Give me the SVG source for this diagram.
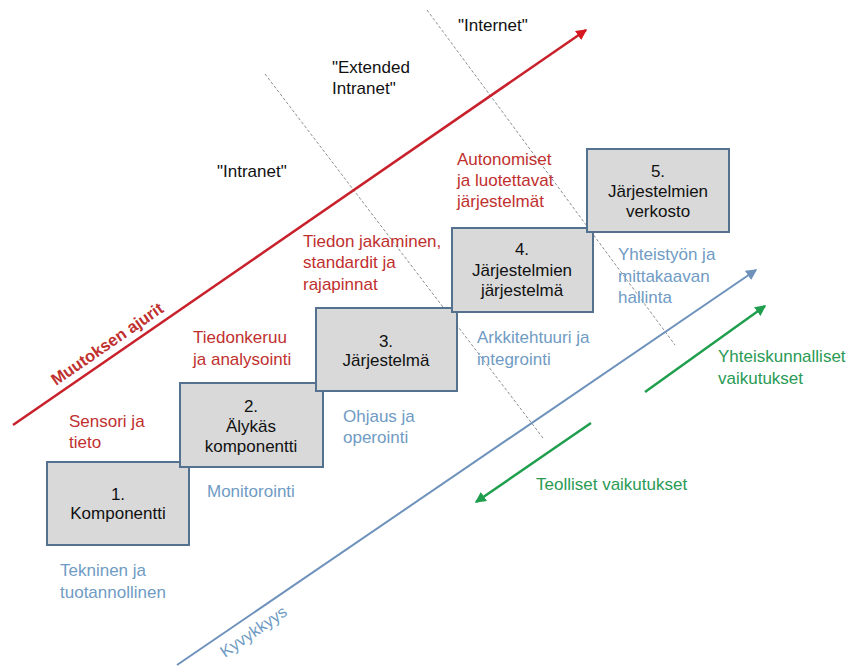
<svg xmlns="http://www.w3.org/2000/svg" width="853" height="666" viewBox="0 0 853 666">
<style>
text{font-family:"Liberation Sans",Arial,sans-serif;font-size:17px}
.blk{fill:#111}
.red{fill:#c0302f}
.blu{fill:#6f9bc4}
.grn{fill:#2a9a55}
.box rect{fill:#d9d9d9;stroke:#54718f;stroke-width:2}
.box text{fill:#111;text-anchor:middle}
.dash{stroke:#8a8f96;stroke-width:1;stroke-dasharray:3 2;fill:none}
</style>
<defs>
<marker id="ar" markerWidth="11" markerHeight="11" refX="7" refY="4" orient="auto" markerUnits="userSpaceOnUse" viewBox="0 0 8 8"><path d="M0,0 L8,4 L0,8 z" fill="#d6171f"/></marker>
<marker id="ab" markerWidth="11" markerHeight="11" refX="7" refY="4" orient="auto" markerUnits="userSpaceOnUse" viewBox="0 0 8 8"><path d="M0,0 L8,4 L0,8 z" fill="#6e92bb"/></marker>
<marker id="ag" markerWidth="11" markerHeight="11" refX="7" refY="4" orient="auto" markerUnits="userSpaceOnUse" viewBox="0 0 8 8"><path d="M0,0 L8,4 L0,8 z" fill="#1f9e4d"/></marker>
</defs>
<rect width="853" height="666" fill="#fff"/>
<g id="connectors">
<line class="dash" x1="265" y1="74" x2="543" y2="438"/>
<line class="dash" x1="427" y1="10" x2="675" y2="345"/>
<line x1="13" y1="425" x2="586" y2="30" stroke="#c8212b" stroke-width="2.5" marker-end="url(#ar)"/>
<line x1="177" y1="665" x2="756" y2="270" stroke="#6e92bb" stroke-width="2" marker-end="url(#ab)"/>
<line x1="645" y1="392" x2="765" y2="306" stroke="#1f9e4d" stroke-width="2.5" marker-end="url(#ag)"/>
<line x1="591" y1="423" x2="476" y2="502" stroke="#1f9e4d" stroke-width="2.5" marker-end="url(#ag)"/>
</g>
<g id="n1" class="box"><rect x="47" y="462" width="142" height="83"/><text x="118" y="500">1.</text><text x="118" y="519">Komponentti</text></g>
<g id="n2" class="box"><rect x="180" y="383" width="143" height="84"/><text x="251" y="412">2.</text><text x="251" y="432">Älykäs</text><text x="251" y="452">komponentti</text></g>
<g id="n3" class="box"><rect x="316" y="308" width="141" height="83"/><text x="386" y="347">3.</text><text x="386" y="366">Järjestelmä</text></g>
<g id="n4" class="box"><rect x="452" y="228" width="141" height="84"/><text x="522" y="255">4.</text><text x="522" y="276">Järjestelmien</text><text x="522" y="296">järjestelmä</text></g>
<g id="n5" class="box"><rect x="587" y="149" width="142" height="83"/><text x="658" y="177">5.</text><text x="658" y="197">Järjestelmien</text><text x="658" y="217">verkosto</text></g>
<g id="labels">
<text class="blk" x="458" y="31">"Internet"</text>
<text class="blk" x="332" y="73">"Extended</text>
<text class="blk" x="332" y="94">Intranet"</text>
<text class="blk" x="217" y="177">"Intranet"</text>
<text class="red" x="457" y="165">Autonomiset</text>
<text class="red" x="457" y="186">ja luotettavat</text>
<text class="red" x="457" y="207">järjestelmät</text>
<text class="red" x="303" y="247">Tiedon jakaminen,</text>
<text class="red" x="303" y="268">standardit ja</text>
<text class="red" x="303" y="290">rajapinnat</text>
<text class="red" x="193" y="343">Tiedonkeruu</text>
<text class="red" x="193" y="365">ja analysointi</text>
<text class="red" x="69" y="427">Sensori ja</text>
<text class="red" x="69" y="448">tieto</text>
<text class="red" transform="translate(56,386) rotate(-34.6)" style="font-weight:bold;font-size:16.5px">Muutoksen ajurit</text>
<text class="blu" x="60" y="576">Tekninen ja</text>
<text class="blu" x="60" y="598">tuotannollinen</text>
<text class="blu" x="207" y="497">Monitorointi</text>
<text class="blu" x="343" y="422">Ohjaus ja</text>
<text class="blu" x="343" y="443">operointi</text>
<text class="blu" x="477" y="343">Arkkitehtuuri ja</text>
<text class="blu" x="477" y="365">integrointi</text>
<text class="blu" x="618" y="260">Yhteistyön ja</text>
<text class="blu" x="618" y="282">mittakaavan</text>
<text class="blu" x="618" y="303">hallinta</text>
<text class="blu" transform="translate(225,658) rotate(-34.6)" style="font-size:16.5px">Kyvykkyys</text>
<text class="grn" x="718" y="362">Yhteiskunnalliset</text>
<text class="grn" x="718" y="384">vaikutukset</text>
<text class="grn" x="536" y="490">Teolliset vaikutukset</text>
</g>
</svg>
